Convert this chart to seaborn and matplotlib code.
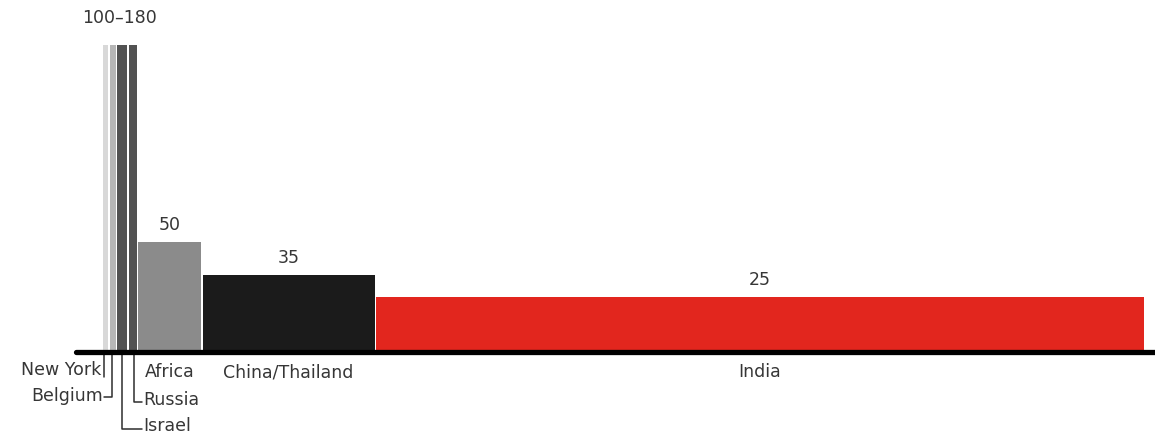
import matplotlib
matplotlib.use("Agg")
import matplotlib.pyplot as plt
import seaborn as sns
import pandas as pd
import numpy as np

# Regions, rates (bar height) and relative bar widths
regions = ["New York", "Belgium", "Israel", "Russia", "Africa", "China/Thailand", "India"]
rates = [180, 180, 180, 180, 50, 35, 25]
widths = [5, 6, 10, 8, 63, 172, 768]
rate_labels = ["", "", "", "", "50", "35", "25"]
group_label = "100–180"
colors = ["#d8d8d8", "#b6b6b6", "#525252", "#525252", "#8b8b8b", "#1b1b1b", "#e2261e"]

sns.set_theme(style="white")
plt.rcParams["font.family"] = ["DejaVu Sans"]

W, H = 1155, 436
fig = plt.figure(figsize=(W / 100, H / 100), dpi=100)
ax = fig.add_axes([76 / W, 84 / H, 1079 / W, 307 / H])

df = pd.DataFrame({"region": regions, "rate": rates})
sns.barplot(data=df, x="region", y="rate", hue="region", palette=colors,
            legend=False, ax=ax, saturation=1, width=1, linewidth=0)

# Variable-width layout: place bars side by side with a small gap
gap = 1.5
start = 27
lefts = start + np.concatenate([[0], np.cumsum(np.array(widths[:-1]) + gap)])
centers = lefts + np.array(widths) / 2
for patch in ax.patches:
    idx = int(round(patch.get_x() + patch.get_width() / 2))
    patch.set_x(lefts[idx])
    patch.set_width(widths[idx])

ax.set_xlim(0, 1079)
ax.set_ylim(0, 139.5)
ax.set_axis_off()

# Baseline
ax.axhline(0, color="black", lw=3.8, clip_on=False, zorder=5)

txt = "#363636"
fs = 12.5
lc = "#2e2e2e"
lw = 1.1

# Value labels
for i, lab in enumerate(rate_labels):
    if lab:
        ax.text(centers[i], rates[i] + 7.5, lab, ha="center", va="center",
                fontsize=fs, color=txt)
ax.text((lefts[0] + lefts[3] + widths[3]) / 2, 151.8, group_label,
        ha="center", va="center", fontsize=fs, color=txt)

# Direct category labels for the wide bars
for i in (4, 5, 6):
    ax.text(centers[i], -9.1, regions[i], ha="center", va="center",
            fontsize=fs, color=txt)

# Leader lines for the thin bars
top = -1.0
# New York
ax.plot([centers[0] - 1.5, centers[0] - 1.5], [top, -11.4], color=lc, lw=lw, clip_on=False)
ax.text(centers[0] - 4, -8.4, regions[0], ha="right", va="center", fontsize=fs, color=txt)
# Belgium
ax.plot([centers[1] - 1, centers[1] - 1, 28], [top, -20.5, -20.5], color=lc, lw=lw, clip_on=False)
ax.text(27, -19.8, regions[1], ha="right", va="center", fontsize=fs, color=txt)
# Israel
ax.plot([centers[2] - 0.5, centers[2] - 0.5, 66], [top, -35.0, -35.0], color=lc, lw=lw, clip_on=False)
ax.text(67, -33.8, regions[2], ha="left", va="center", fontsize=fs, color=txt)
# Russia
ax.plot([centers[3] + 1, centers[3] + 1, 66], [top, -22.7, -22.7], color=lc, lw=lw, clip_on=False)
ax.text(67, -21.8, regions[3], ha="left", va="center", fontsize=fs, color=txt)

fig.savefig("out.png", dpi=100, facecolor="white")
